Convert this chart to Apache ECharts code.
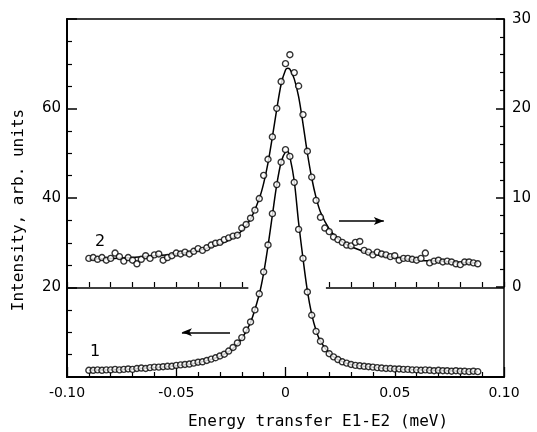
<!DOCTYPE html>
<html>
<head>
<meta charset="utf-8">
<script src="https://cdn.jsdelivr.net/npm/echarts@6/dist/echarts.min.js"></script>
<style>html,body{margin:0;padding:0;background:#fff}#c{width:537px;height:432px}</style>
</head>
<body>
<div id="c"></div>
<script>
// Energy transfer (meV) of the measured points
const energy = [
-0.090,-0.088,-0.086,-0.084,-0.082,-0.080,-0.078,-0.076,-0.074,-0.072,
-0.070,-0.068,-0.066,-0.064,-0.062,-0.060,-0.058,-0.056,-0.054,-0.052,
-0.050,-0.048,-0.046,-0.044,-0.042,-0.040,-0.038,-0.036,-0.034,-0.032,
-0.030,-0.028,-0.026,-0.024,-0.022,-0.020,-0.018,-0.016,-0.014,-0.012,
-0.010,-0.008,-0.006,-0.004,-0.002,0.000,0.002,0.004,0.006,0.008,
0.010,0.012,0.014,0.016,0.018,0.020,0.022,0.024,0.026,0.028,
0.030,0.032,0.034,0.036,0.038,0.040,0.042,0.044,0.046,0.048,
0.050,0.052,0.054,0.056,0.058,0.060,0.062,0.064,0.066,0.068,
0.070,0.072,0.074,0.076,0.078,0.080,0.082,0.084,0.086,0.088];
// Curve 1 (left axis)
const curve1 = [
1.5,1.5,1.6,1.5,1.6,1.6,1.7,1.6,1.7,1.8,
1.7,1.9,2.0,1.9,2.1,2.2,2.2,2.3,2.4,2.4,
2.6,2.7,2.8,2.9,3.1,3.3,3.4,3.7,4.0,4.3,
4.7,5.1,5.8,6.6,7.6,8.8,10.5,12.3,15.0,18.6,
23.5,29.5,36.5,43.0,48.0,50.8,49.3,43.5,33.0,26.5,
19.0,13.8,10.2,8.0,6.3,5.2,4.5,3.9,3.4,3.1,
2.8,2.6,2.5,2.4,2.3,2.2,2.1,2.0,1.9,1.9,
1.8,1.8,1.7,1.7,1.6,1.6,1.5,1.6,1.5,1.4,
1.5,1.4,1.4,1.3,1.4,1.3,1.3,1.2,1.3,1.2];
// Curve 2 (right axis)
const curve2 = [
3.2,3.3,3.1,3.3,3.0,3.2,3.8,3.4,2.9,3.3,
3.0,2.6,3.1,3.5,3.2,3.6,3.7,3.0,3.3,3.5,
3.8,3.7,3.9,3.7,4.0,4.3,4.1,4.4,4.7,4.9,
5.0,5.3,5.5,5.7,5.8,6.6,7.0,7.7,8.6,9.9,
12.5,14.3,16.8,20.0,23.0,25.0,26.0,24.0,22.5,19.3,
15.2,12.3,9.7,7.8,6.6,6.2,5.6,5.3,5.0,4.7,
4.6,5.0,5.1,4.1,3.9,3.6,3.9,3.7,3.6,3.4,
3.5,3.0,3.2,3.2,3.1,3.0,3.2,3.8,2.7,2.9,
3.0,2.8,2.9,2.8,2.6,2.5,2.8,2.8,2.7,2.6];
// Fitted curves
const fitX = [-0.090,-0.080,-0.070,-0.060,-0.050,-0.040,-0.030,-0.024,-0.020,-0.016,-0.012,-0.010,-0.008,-0.006,-0.004,-0.002,0.000,0.001,0.002,0.004,0.006,0.008,0.010,0.012,0.014,0.016,0.020,0.024,0.030,0.040,0.050,0.060,0.070,0.080,0.088];
const fit1 = [1.5,1.6,1.8,2.1,2.5,3.2,4.6,6.4,8.6,12.2,18.5,23.2,29.3,36.2,43.0,48.0,50.3,50.4,49.2,43.8,34.5,26.5,19.3,14.0,10.4,8.0,5.3,3.9,2.8,2.2,1.8,1.6,1.45,1.3,1.2];
const fit2 = [3.1,3.2,3.3,3.5,3.7,4.1,4.8,5.5,6.3,7.6,9.9,11.6,13.9,16.8,19.9,22.7,24.3,24.5,24.4,23.3,21.3,18.3,15.0,12.2,10.0,8.4,6.5,5.4,4.5,3.7,3.3,3.0,2.9,2.75,2.7];
// Tick labels
const xTickLabels = {'-0.1':'-0.10','-0.05':'-0.05','0':'0','0.05':'0.05','0.1':'0.10'};
const leftTickLabels = [20, 40, 60];
const rightTickLabels = [0, 10, 20, 30];

const FONT = 'DejaVu Sans';
const pts = (xs, ys) => xs.map((x, i) => [x, ys[i]]);
const chart = echarts.init(document.getElementById('c'), null, {renderer: 'canvas'});
const hiddenY = (g) => ({type:'value', gridIndex:g, show:false, min:0, max:1});
const tickX = (g, mn, mx) => ({
  type:'value', gridIndex:g, min:mn, max:mx, interval:0.01, position:'bottom',
  axisLine:{show:false}, axisLabel:{show:false}, splitLine:{show:false},
  axisTick:{show:true, inside:true, length:5, lineStyle:{color:'#000', width:1.2}}
});
chart.setOption({
  animation:false,
  backgroundColor:'#fff',
  grid:[
    {left:67, right:33, top:19, bottom:55, show:true, borderColor:'#000', borderWidth:1.5, backgroundColor:'transparent'},
    {left:67, right:33, top:19, height:268},
    {left:67, width:174.8, top:19, height:268},
    {right:33, width:174.8, top:19, height:268}
  ],
  xAxis:[
    {type:'value', gridIndex:0, min:-0.1, max:0.1, interval:0.05,
     axisLine:{show:true, onZero:false, lineStyle:{color:'#000', width:2}},
     axisTick:{show:true, inside:true, length:10, lineStyle:{color:'#000', width:1.3}},
     minorTick:{show:true, splitNumber:5, length:5, lineStyle:{color:'#000', width:1.2}},
     splitLine:{show:false},
     axisLabel:{color:'#000', fontFamily:FONT, fontSize:14, margin:9,
       formatter:(v)=>{const k=String(Math.round(v*100)/100); return xTickLabels[k]!==undefined?xTickLabels[k]:'';}}},
    {type:'value', gridIndex:1, min:-0.1, max:0.1, show:false},
    tickX(2, -0.10, -0.02),
    tickX(3, 0.02, 0.10)
  ],
  yAxis:[
    {type:'value', gridIndex:0, min:0, max:80, interval:20, position:'left',
     axisLine:{show:true, onZero:false, lineStyle:{color:'#000', width:2}},
     axisTick:{show:true, inside:true, length:10, lineStyle:{color:'#000', width:1.5}},
     minorTick:{show:true, splitNumber:4, length:5, lineStyle:{color:'#000', width:1.2}},
     splitLine:{show:false},
     axisLabel:{color:'#000', fontFamily:FONT, fontSize:15, margin:6,
       formatter:(v)=>leftTickLabels.includes(v)?String(v):''}},
    {type:'value', gridIndex:1, min:0, max:30, interval:10, position:'right',
     axisLine:{show:true, onZero:false, lineStyle:{color:'#000', width:1.2}},
     axisTick:{show:true, inside:true, length:8, lineStyle:{color:'#000', width:1.5}},
     minorTick:{show:true, splitNumber:5, length:4, lineStyle:{color:'#000', width:1.2}},
     splitLine:{show:false},
     axisLabel:{color:'#000', fontFamily:FONT, fontSize:15, margin:8,
       formatter:(v)=>rightTickLabels.includes(v)?String(v):''}},
    hiddenY(2), hiddenY(3)
  ],
  series:[
    {type:'line', name:'fit1', xAxisIndex:0, yAxisIndex:0, data:pts(fitX, fit1),
     showSymbol:false, smooth:0.3, lineStyle:{color:'#000', width:1.5}, z:2,
     markLine:{silent:true, symbol:['none','none'], label:{show:false},
       lineStyle:{color:'#000', width:1.5, type:'solid'},
       data:[
         [{coord:[-0.10,20]},{coord:[-0.017,20]}],
         [{coord:[0.0185,20]},{coord:[0.10,20]}],
         [{coord:[-0.0254,10], symbol:'none'},{coord:[-0.0474,10], symbol:'arrow', symbolSize:[6,10]}]
       ]}},
    {type:'scatter', name:'curve1', xAxisIndex:0, yAxisIndex:0, data:pts(energy, curve1),
     symbol:'circle', symbolSize:6, itemStyle:{color:'#fff', borderColor:'#000', borderWidth:1.4}, z:3},
    {type:'line', name:'fit2', xAxisIndex:1, yAxisIndex:1, data:pts(fitX, fit2),
     showSymbol:false, smooth:0.3, lineStyle:{color:'#000', width:1.5}, z:2,
     markLine:{silent:true, symbol:['none','arrow'], symbolSize:[6,10], label:{show:false},
       lineStyle:{color:'#000', width:1.5, type:'solid'},
       data:[[{coord:[0.0245,7.4]},{coord:[0.045,7.4]}]]}},
    {type:'scatter', name:'curve2', xAxisIndex:1, yAxisIndex:1, data:pts(energy, curve2),
     symbol:'circle', symbolSize:6, itemStyle:{color:'#fff', borderColor:'#000', borderWidth:1.4}, z:3}
  ],
  graphic:[
    {type:'text', x:19, y:210, rotation:Math.PI/2,
     style:{text:'Intensity, arb. units', font:'16px "DejaVu Sans Mono"', fill:'#000', align:'center', verticalAlign:'middle'}},
    {type:'text', x:318, y:422,
     style:{text:'Energy transfer E1-E2 (meV)', font:'16px "DejaVu Sans Mono"', fill:'#000', align:'center', verticalAlign:'middle'}},
    {type:'text', x:95, y:352, style:{text:'1', font:'16px "DejaVu Sans"', fill:'#000', align:'center', verticalAlign:'middle'}},
    {type:'text', x:100, y:242, style:{text:'2', font:'16px "DejaVu Sans"', fill:'#000', align:'center', verticalAlign:'middle'}}
  ]
});
</script>
</body>
</html>
